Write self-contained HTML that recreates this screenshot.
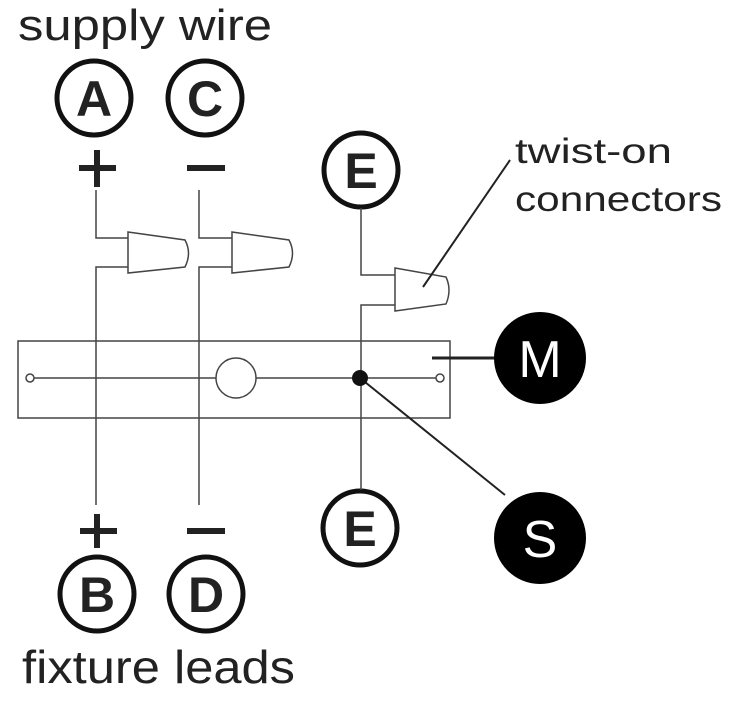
<!DOCTYPE html>
<html><head><style>body{margin:0;background:#fff}svg{display:block}</style></head><body>
<svg width="730" height="710" viewBox="0 0 730 710" xmlns="http://www.w3.org/2000/svg" font-family="'Liberation Sans', sans-serif">
<rect width="730" height="710" fill="#fff"/>
<text x="18" y="40" font-size="44" fill="#222" textLength="254" lengthAdjust="spacingAndGlyphs">supply wire</text>
<text x="22" y="683" font-size="46" fill="#222" textLength="273" lengthAdjust="spacingAndGlyphs">fixture leads</text>
<text x="515" y="163" font-size="35" fill="#222" textLength="157" lengthAdjust="spacingAndGlyphs">twist-on</text>
<text x="515" y="211" font-size="35" fill="#222" textLength="207" lengthAdjust="spacingAndGlyphs">connectors</text>
<g fill="none" stroke="#111" stroke-width="5">
<circle cx="94" cy="98" r="37"/><circle cx="205" cy="98" r="37"/>
<circle cx="361" cy="170" r="37"/><circle cx="97" cy="594" r="37"/>
<circle cx="206" cy="594" r="37"/><circle cx="360" cy="528" r="37"/>
</g>
<g font-size="50" font-weight="bold" fill="#222" text-anchor="middle">
<text x="94" y="116">A</text><text x="205" y="116">C</text><text x="361" y="188">E</text>
<text x="97" y="612">B</text><text x="206" y="612">D</text><text x="360" y="546">E</text>
</g>
<g stroke="#222" stroke-width="6">
<line x1="79" y1="168" x2="116" y2="168"/><line x1="97" y1="150" x2="97" y2="187"/>
<line x1="187" y1="168" x2="225" y2="168"/>
<line x1="80" y1="531" x2="117" y2="531"/><line x1="97" y1="514" x2="97" y2="548"/>
<line x1="187" y1="531" x2="225" y2="531"/>
</g>
<g fill="none" stroke="#444" stroke-width="1.5">
<polyline points="96,190 96,238 128,238"/><polyline points="128,267 96,267 96,505"/>
<polyline points="199,190 199,238 232,238"/><polyline points="232,267 199,267 199,505"/>
<path d="M128,232 L185,240 Q192,253 185,267 L128,273 Z"/>
<path d="M232,232 L289,240 Q296,253 289,267 L232,273 Z"/>
<polyline points="361,208 361,275 395,275"/><polyline points="395,305 361,305 361,490"/>
<path d="M395,268 L446,277 Q452,290 446,304 L395,311 Z"/>
<rect x="18" y="341" width="432" height="77"/>
<line x1="30" y1="378" x2="440" y2="378"/>
<circle cx="30" cy="378" r="4" fill="#fff"/><circle cx="440" cy="378" r="4" fill="#fff"/>
<circle cx="236" cy="378" r="20" fill="#fff"/>
</g>
<g stroke="#222" stroke-width="2">
<line x1="510" y1="160" x2="423" y2="287"/>
<line x1="432" y1="358" x2="495" y2="358" stroke-width="3"/>
<line x1="360" y1="378" x2="505" y2="495"/>
</g>
<circle cx="360" cy="378" r="8" fill="#111"/>
<circle cx="540" cy="358" r="46" fill="#000"/>
<circle cx="540" cy="538" r="46" fill="#000"/>
<g font-size="52" fill="#fff" text-anchor="middle">
<text x="540" y="377">M</text><text x="540" y="557">S</text>
</g>
</svg>
</body></html>
